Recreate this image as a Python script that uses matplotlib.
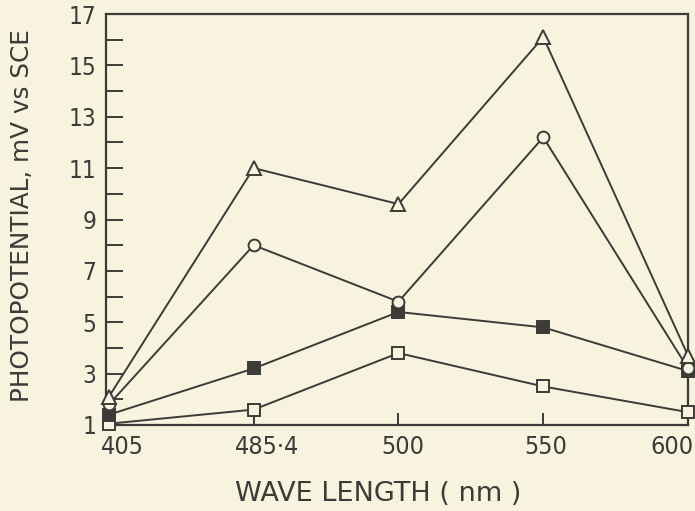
import matplotlib
matplotlib.use("Agg")
import matplotlib.pyplot as plt
import matplotlib.transforms as mtransforms
import numpy as np

# Photopotential vs wavelength
wavelengths = ["405", "485·4", "500", "550", "600"]
triangle_open = [2.1, 11.0, 9.6, 16.1, 3.7]
circle_open = [1.8, 8.0, 5.8, 12.2, 3.2]
square_filled = [1.4, 3.2, 5.4, 4.8, 3.1]
square_open = [1.05, 1.6, 3.8, 2.5, 1.5]
y_ticks = list(range(1, 18, 2))

ink = "#3b3b38"
paper = "#f8f3df"

plt.rcParams["font.family"] = ["DejaVu Sans"]

fig = plt.figure(figsize=(6.95, 5.11), dpi=100, facecolor=paper)
ax = fig.add_axes([0.1525, 0.1683, 0.8375, 0.8043])
ax.set_facecolor(paper)

x = np.arange(len(wavelengths))
style = dict(color=ink, lw=1.4, markeredgewidth=1.4,
             markeredgecolor=ink, clip_on=False, zorder=3)
ax.plot(x, square_open, marker="s", markersize=8, markerfacecolor=paper, **style)
ax.plot(x, square_filled, marker="s", markersize=8, markerfacecolor=ink, **style)
ax.plot(x, circle_open, marker="o", markersize=8.5, markerfacecolor=paper, **style)
ax.plot(x, triangle_open, marker="^", markersize=10, markerfacecolor=paper, **style)

ax.set_xlim(-0.02, 4)
ax.set_ylim(1, 17)
ax.set_xticks(x)
ax.set_xticklabels(wavelengths, fontstretch="condensed")
ax.set_yticks(y_ticks)
ax.set_yticklabels([str(v) for v in y_ticks], fontstretch="condensed")
ax.set_yticks(range(2, 17, 2), minor=True)

for s in ax.spines.values():
    s.set_color(ink)
    s.set_linewidth(1.6)

ax.tick_params(axis="y", which="both", direction="in", length=12, width=1.4,
               color=ink, labelcolor=ink, labelsize=17.5, pad=7)
ax.tick_params(axis="x", direction="in", length=8.5, width=1.4,
               color=ink, labelcolor=ink, labelsize=18, pad=7)

# nudge the x tick labels sideways (pixels)
label_shift_px = [14, 13, 4, 2, -16]
for lab, dx in zip(ax.get_xticklabels(), label_shift_px):
    lab.set_transform(lab.get_transform() +
                      mtransforms.ScaledTranslation(dx / 100, 0, fig.dpi_scale_trans))

ax.text(0.467, -0.168, "WAVE LENGTH ( nm )", transform=ax.transAxes,
        ha="center", va="center", fontsize=19.5, color=ink)
ax.text(-0.145, 0.509, "PHOTOPOTENTIAL, mV vs SCE", transform=ax.transAxes,
        ha="center", va="center", rotation=90, fontsize=17.8, color=ink)

fig.savefig("out.png", dpi=100, facecolor=paper)
